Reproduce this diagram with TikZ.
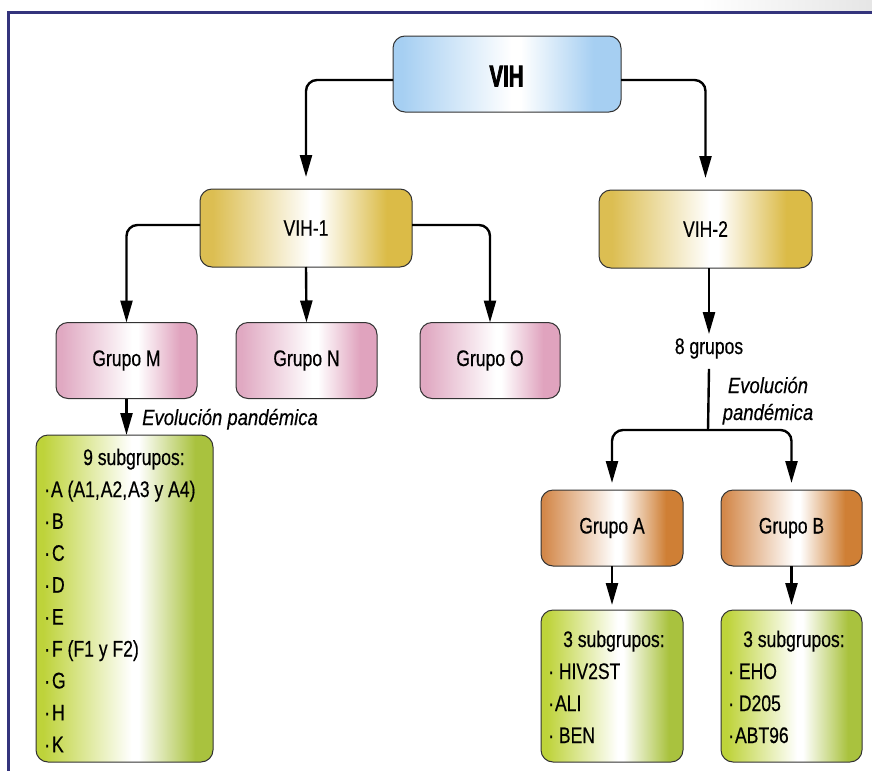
\documentclass[tikz,border=0pt]{standalone}
\usepackage{fontspec}
\setmainfont{Liberation Sans}[FakeStretch=0.78,FakeBold=0.4]
\newfontfamily\titlefont{Liberation Sans}[FakeStretch=0.68,FakeBold=2.5]
\newfontfamily\labfont{Liberation Sans}[FakeStretch=0.84,FakeBold=0.4]
\usetikzlibrary{arrows.meta,calc}
\definecolor{framec}{HTML}{34347C}
\definecolor{bluec}{HTML}{A6CFF2}
\definecolor{goldL}{HTML}{DCBE52}
\definecolor{goldR}{HTML}{DBBB47}
\definecolor{pinkL}{HTML}{E0A9C2}
\definecolor{pinkR}{HTML}{E0A3BE}
\definecolor{orL}{HTML}{D3884A}
\definecolor{orR}{HTML}{CF7F35}
\definecolor{grL}{HTML}{BED33A}
\definecolor{grR}{HTML}{A9C23E}
\definecolor{edgec}{HTML}{333333}
\pgfdeclarehorizontalshading{blueshade}{100bp}{color(0bp)=(bluec); color(27bp)=(bluec); color(51bp)=(white); color(53bp)=(white); color(69bp)=(bluec); color(100bp)=(bluec)}
\pgfdeclarehorizontalshading{goldshade}{100bp}{color(0bp)=(goldL); color(28bp)=(goldL); color(51bp)=(white); color(53bp)=(white); color(69bp)=(goldR); color(100bp)=(goldR)}
\pgfdeclarehorizontalshading{pinkshade}{100bp}{color(0bp)=(pinkL); color(27bp)=(pinkL); color(52bp)=(white); color(54bp)=(white); color(69bp)=(pinkR); color(100bp)=(pinkR)}
\pgfdeclarehorizontalshading{orshade}{100bp}{color(0bp)=(orL); color(26bp)=(orL); color(51bp)=(white); color(53bp)=(white); color(69bp)=(orR); color(100bp)=(orR)}
\pgfdeclarehorizontalshading{grshade}{100bp}{color(0bp)=(grL); color(27bp)=(grL); color(52bp)=(white); color(54bp)=(white); color(70bp)=(grR); color(100bp)=(grR)}
\tikzset{
  box/.style={draw=edgec, line width=1pt, rounded corners=12pt, shade, inner sep=0pt, outer sep=0pt,
    font=\fontsize{22.5}{27}\selectfont},
  bluebox/.style={box, shading=blueshade},
  goldbox/.style={box, shading=goldshade, minimum height=78pt},
  pinkbox/.style={box, shading=pinkshade, minimum width=141pt, minimum height=76pt},
  orbox/.style={box, shading=orshade, minimum width=142pt, minimum height=76pt},
  grbox/.style={box, shading=grshade},
  itemtxt/.style={anchor=base west, inner sep=0pt, font=\fontsize{22.5}{27}\selectfont},
  labtxt/.style={inner sep=0pt, font=\labfont\itshape\fontsize{22}{27}\selectfont},
  arr/.style={line width=2.4pt, rounded corners=11pt, -{Triangle[length=22pt,width=12pt]}},
  ln/.style={line width=2.4pt, rounded corners=11pt},
}
\begin{document}
\begin{tikzpicture}[x=1pt,y=-1pt]
\useasboundingbox (0,0) rectangle (872,771);
% frame
\shade[left color=white, right color=black!10] (700,0) rectangle (872,11.3);
\fill[framec] (7,11.3) rectangle (872,13.8);
\fill[framec] (7,11.3) rectangle (9.8,771);
% nodes
\node[bluebox, minimum width=228pt, minimum height=76pt] (vih) at (507,74) {};
\node[inner sep=0pt, anchor=base, font=\titlefont\bfseries\fontsize{30}{30}\selectfont] (vihtxt) at (506.5,86.5) {VIH};
\node[goldbox, minimum width=212pt] (vih1) at (306,228) {VIH-1};
\node[goldbox, minimum width=213pt] (vih2) at (705.5,229) {VIH-2};
\node[pinkbox] (gm) at (126.5,360.5) {Grupo M};
\node[pinkbox] (gn) at (306.5,360.5) {Grupo N};
\node[pinkbox, minimum width=140pt] (go) at (490,360.5) {Grupo O};
\node[grbox, minimum width=177pt, minimum height=327pt] (sub9) at (124.5,598.5) {};
\node[orbox] (ga) at (612,528) {Grupo A};
\node[orbox, minimum width=141pt] (gb) at (791.5,528) {Grupo B};
\node[grbox, minimum width=142pt, minimum height=152pt] (suba) at (612,686) {};
\node[grbox, minimum width=141pt, minimum height=152pt] (subb) at (791.5,686) {};
% left green box text
\node[itemtxt] (s0) at (83,465) {9 subgrupos:};
\node[itemtxt] (s1) at (44,497) {·\kern1pt A (A1,\kern1pt A2,\kern1pt A3 y A4)};
\node[itemtxt] (s2) at (44,528.9) {·\kern2pt B};
\node[itemtxt] (s3) at (44,560.8) {·\kern2pt C};
\node[itemtxt] (s4) at (44,592.7) {·\kern2pt D};
\node[itemtxt] (s5) at (44,624.6) {·\kern2pt E};
\node[itemtxt] (s6) at (44,656.5) {·\kern2pt F (F1 y F2)};
\node[itemtxt] (s7) at (44,688.4) {·\kern2pt G};
\node[itemtxt] (s8) at (44,720.3) {·\kern2pt H};
\node[itemtxt] (s9) at (44,752.2) {·\kern2pt K};
% green box A text
\node[itemtxt] (a0) at (563,647) {3 subgrupos:};
\node[itemtxt] (a1) at (548,679) {· HIV2ST};
\node[itemtxt] (a2) at (548,711) {·\kern1pt ALI};
\node[itemtxt] (a3) at (548,743) {· BEN};
% green box B text
\node[itemtxt] (b0) at (743,647) {3 subgrupos:};
\node[itemtxt] (b1) at (728,679) {· EHO};
\node[itemtxt] (b2) at (728,711) {· D205};
\node[itemtxt] (b3) at (728,743) {·\kern1pt ABT96};
% plain texts
\node[inner sep=0pt, anchor=base, font=\fontsize{22.5}{27}\selectfont] (eight) at (709,354) {8 grupos};
\node[labtxt, anchor=base west] (evo1) at (142,425) {Evolución pandémica};
\node[labtxt, anchor=base, align=center] (evo2) at (768,420) {Evolución\\pandémica};
% connectors
\draw[arr] ([yshift=-6pt]vih.west) -| ([yshift=12pt]vih1.north);
\draw[arr] ([yshift=-6pt]vih.east) -| ([yshift=12pt]vih2.north);
\draw[arr] ([yshift=3pt]vih1.west) -| (gm.north);
\draw[arr] ([yshift=3pt]vih1.east) -| (go.north);
\draw[arr] (vih1.south) -- (gn.north);
\draw[arr] (gm.south) -- (gm.south |- sub9.north);
\draw[arr] (vih2.south -| eight.north) -- ([yshift=4pt]eight.north);
\coordinate (split) at (708,430);
\draw[ln] ([yshift=-10pt]eight.south) -- (split);
\draw[arr] (split) -| ([yshift=7pt]ga.north);
\draw[arr] (split) -| ([yshift=7pt]gb.north);
\draw[arr] (ga.south) -- ([yshift=5pt]suba.north);
\draw[arr] (gb.south) -- ([yshift=5pt]subb.north);
\end{tikzpicture}
\end{document}
